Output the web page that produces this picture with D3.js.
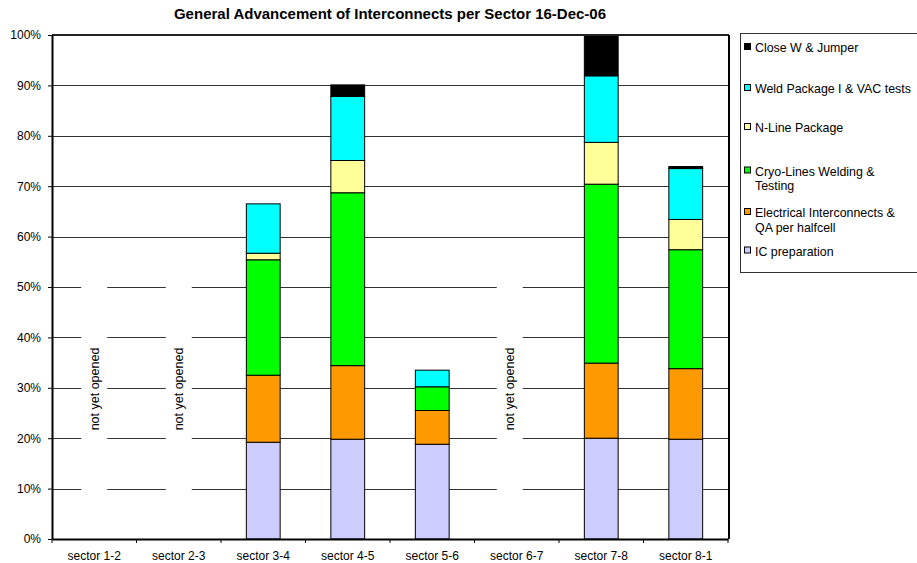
<!DOCTYPE html>
<html><head><meta charset="utf-8">
<script src="https://cdn.jsdelivr.net/npm/d3@7"></script>
<style>body{margin:0;background:#fff}svg{display:block;font-family:"Liberation Sans",Arial,sans-serif}</style>
</head><body><svg id="c" width="917" height="563"></svg>
<script>
const categories = ["sector 1-2","sector 2-3","sector 3-4","sector 4-5","sector 5-6","sector 6-7","sector 7-8","sector 8-1"];
const seriesNames = ["IC preparation","Electrical Interconnects & QA per halfcell","Cryo-Lines Welding & Testing","N-Line Package","Weld Package I & VAC tests","Close W & Jumper"];
const icPreparation = [0,0,19.2,19.8,18.8,0,20.0,19.8];
const electrical    = [0,0,13.3,14.6,6.7,0,14.9,14.0];
const cryoLines     = [0,0,22.9,34.3,4.7,0,35.5,23.6];
const nLine         = [0,0,1.3,6.4,0,0,8.3,6.0];
const weldPackage   = [0,0,9.8,12.7,3.3,0,13.2,10.1];
const closeW        = [0,0,0,2.3,0,0,7.8,0.4];
const notOpened     = ["sector 1-2","sector 2-3","sector 6-7"];
const yTicks        = [0,10,20,30,40,50,60,70,80,90,100];
const colors        = ["#CCCCFF","#FF9900","#00FF00","#FFFF99","#00FFFF","#000000"];
const legendLines   = [["Close W & Jumper"],["Weld Package I & VAC tests"],["N-Line Package"],["Cryo-Lines Welding &","Testing"],["Electrical Interconnects &","QA per halfcell"],["IC preparation"]];

const seriesVals = [icPreparation, electrical, cryoLines, nLine, weldPackage, closeW];
const table = categories.map((c,i)=>{const o={cat:c}; seriesNames.forEach((s,j)=>o[s]=seriesVals[j][i]); return o;});
const stacked = d3.stack().keys(seriesNames)(table);

const svg = d3.select("#c");
const L=52,R=728,T=35,B=539;
const x = d3.scaleBand().domain(categories).range([L,R]).paddingInner(0.6).paddingOuter(0.3);
const xb = d3.scaleBand().domain(categories).range([L,R]);
const y = d3.scaleLinear().domain([0,100]).range([B,T]);

svg.append("text").attr("x",390).attr("y",19).attr("text-anchor","middle")
  .attr("font-size",15).attr("font-weight","bold").text("General Advancement of Interconnects per Sector 16-Dec-06");

// gridlines
svg.append("g").selectAll("line").data(yTicks.filter(t=>t>0&&t<100)).join("line")
  .attr("x1",L).attr("x2",R).attr("y1",d=>Math.round(y(d))+0.5).attr("y2",d=>Math.round(y(d))+0.5)
  .attr("stroke","#333").attr("stroke-width",1);

// not yet opened labels with white background
const nudge = {"sector 6-7":-7};
const ng = svg.append("g").selectAll("g").data(notOpened).join("g")
  .attr("transform",d=>`translate(${xb(d)+xb.bandwidth()/2+(nudge[d]||0)},389)`);
ng.append("rect").attr("x",-13).attr("y",-107).attr("width",26).attr("height",213).attr("fill","#fff");
ng.append("text").attr("transform","rotate(-90)").attr("text-anchor","middle").attr("dy","0.35em")
  .attr("font-size",12.5).text("not yet opened");

// bars
svg.append("g").selectAll("g").data(stacked).join("g").attr("fill",(d,i)=>colors[i])
  .selectAll("rect").data(d=>d.filter(v=>v[1]-v[0]>0)).join("rect")
  .attr("x",d=>x(d.data.cat)).attr("width",x.bandwidth())
  .attr("y",d=>y(d[1])).attr("height",d=>y(d[0])-y(d[1]))
  .attr("stroke","#000").attr("stroke-width",1);

// frame
svg.append("line").attr("x1",L).attr("x2",R+1).attr("y1",T).attr("y2",T).attr("stroke","#222").attr("stroke-width",2);
svg.append("line").attr("x1",R+1).attr("x2",R+1).attr("y1",T).attr("y2",B).attr("stroke","#000").attr("stroke-width",2);

// y axis
const ya = svg.append("g").attr("transform",`translate(${L},0)`)
  .call(d3.axisLeft(y).tickValues(yTicks).tickFormat(d=>d+"%").tickSize(4).tickSizeOuter(0));
ya.select(".domain").attr("stroke","#000").attr("stroke-width",2);
ya.selectAll("text").attr("font-size",12).attr("font-family","Liberation Sans, Arial").attr("fill","#000").attr("x",-11);

// x axis
const xa = svg.append("g").attr("transform",`translate(0,${B})`)
  .call(d3.axisBottom(xb).tickSize(0).tickSizeOuter(0));
xa.select(".domain").attr("stroke","#000").attr("stroke-width",2);
xa.selectAll("text").attr("font-size",12).attr("font-family","Liberation Sans, Arial").attr("fill","#000").attr("dy",0).attr("y",21);
svg.append("g").selectAll("line").data(d3.range(categories.length+1)).join("line")
  .attr("x1",i=>L+i*xb.step()).attr("x2",i=>L+i*xb.step()).attr("y1",B).attr("y2",B+4).attr("stroke","#000");

// legend
const lg = svg.append("g");
lg.append("rect").attr("x",740.5).attr("y",33.5).attr("width",200).attr("height",239).attr("fill","#fff").attr("stroke","#333");
const ly = [48,89,128,171.5,213,251.5];
legendLines.forEach((lines,i)=>{
  const ci = colors.length-1-i;
  lg.append("rect").attr("x",744.5).attr("y",ly[i]-4.5).attr("width",6).attr("height",6).attr("fill",colors[ci]).attr("stroke","#000");
  const t = lg.append("text").attr("x",755).attr("y",ly[i]).attr("font-size",12.4);
  lines.forEach((s,k)=>t.append("tspan").attr("x",755).attr("dy",k===0?"0.35em":"14.5").text(s));
});
</script></body></html>
